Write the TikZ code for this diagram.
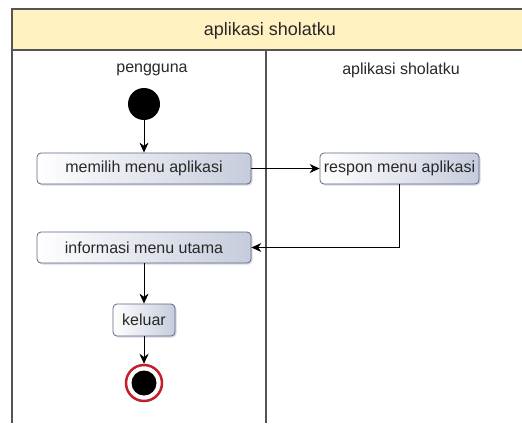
\documentclass[tikz,border=0pt]{standalone}
\usepackage{fontspec}
\setmainfont{Liberation Sans}
\usepackage{tikz}
\usetikzlibrary{calc}
\usetikzlibrary{arrows.meta}
\usetikzlibrary{shadows}
\definecolor{colhead}{RGB}{255,241,192}
\definecolor{colline}{RGB}{85,85,85}
\definecolor{colbox}{RGB}{92,104,136}
\definecolor{colfill}{RGB}{198,204,220}
\definecolor{colend}{RGB}{196,32,44}
\definecolor{coltext}{RGB}{40,40,40}

\begin{document}
\begin{tikzpicture}[x=1pt, y=-1pt,
    every node/.style={text=coltext, font=\fontsize{16}{18}\selectfont},
    actbox/.style={draw=colbox, thick, rounded corners=4pt, left color=white, right color=colfill,
        inner sep=1pt, minimum height=31pt,
        drop shadow={opacity=0.25, fill=colbox, shadow xshift=1.5pt, shadow yshift=-1.5pt}},
    flow/.style={thick, -{Stealth[length=10pt, width=9pt]}}]
        \clip (0, 0) rectangle (522, 423);
        \coordinate (origin) at (0, 0);

        % swimlane frame
        \fill [colhead] ($(origin) + (12, 9)$) rectangle ($(origin) + (540, 50)$);
        \draw [colline, line width=1.5pt] ($(origin) + (12, 423)$) -- ($(origin) + (12, 9)$) -- ($(origin) + (540, 9)$);
        \draw [colline, line width=1.5pt] ($(origin) + (12, 50)$) -- ($(origin) + (540, 50)$);
        \draw [colline, line width=1.2pt] ($(origin) + (266, 50)$) -- ($(origin) + (266, 423)$);

        \node (title) at ($(origin) + (270, 31)$) {\fontsize{18}{20}\selectfont aplikasi sholatku};
        \node (lanepeng) at ($(origin) + (152, 70)$) {pengguna};
        \node (laneapp) at ($(origin) + (401, 70)$) {aplikasi sholatku};

        % activities
        \node (start) [circle, fill=black, minimum size=32pt, inner sep=0pt] at ($(origin) + (144, 104)$) {};
        \node (memilih) [actbox, minimum width=214pt] at ($(origin) + (144, 168.5)$) {memilih menu aplikasi};
        \node (respon) [actbox, minimum width=159pt] at ($(origin) + (399.5, 168.5)$) {respon menu aplikasi};
        \node (informasi) [actbox, minimum width=214pt] at ($(origin) + (144, 247.5)$) {informasi menu utama};
        \node (keluar) [actbox, minimum width=62pt, minimum height=32pt] at ($(origin) + (144, 320)$) {keluar};
        \node (end) [circle, draw=colend, line width=2.5pt, fill=white, minimum size=36pt, inner sep=0pt] at ($(origin) + (144, 383)$) {};
        \node (endin) [circle, fill=black, minimum size=25pt, inner sep=0pt] at (end) {};

        \draw [flow] (start) -- (memilih);
        \draw [flow] (memilih) -- (respon);
        \draw [flow] (respon.south) |- (informasi.east);
        \draw [flow] (informasi) -- (keluar);
        \draw [flow] (keluar) -- (end);
      \end{tikzpicture}
\end{document}
